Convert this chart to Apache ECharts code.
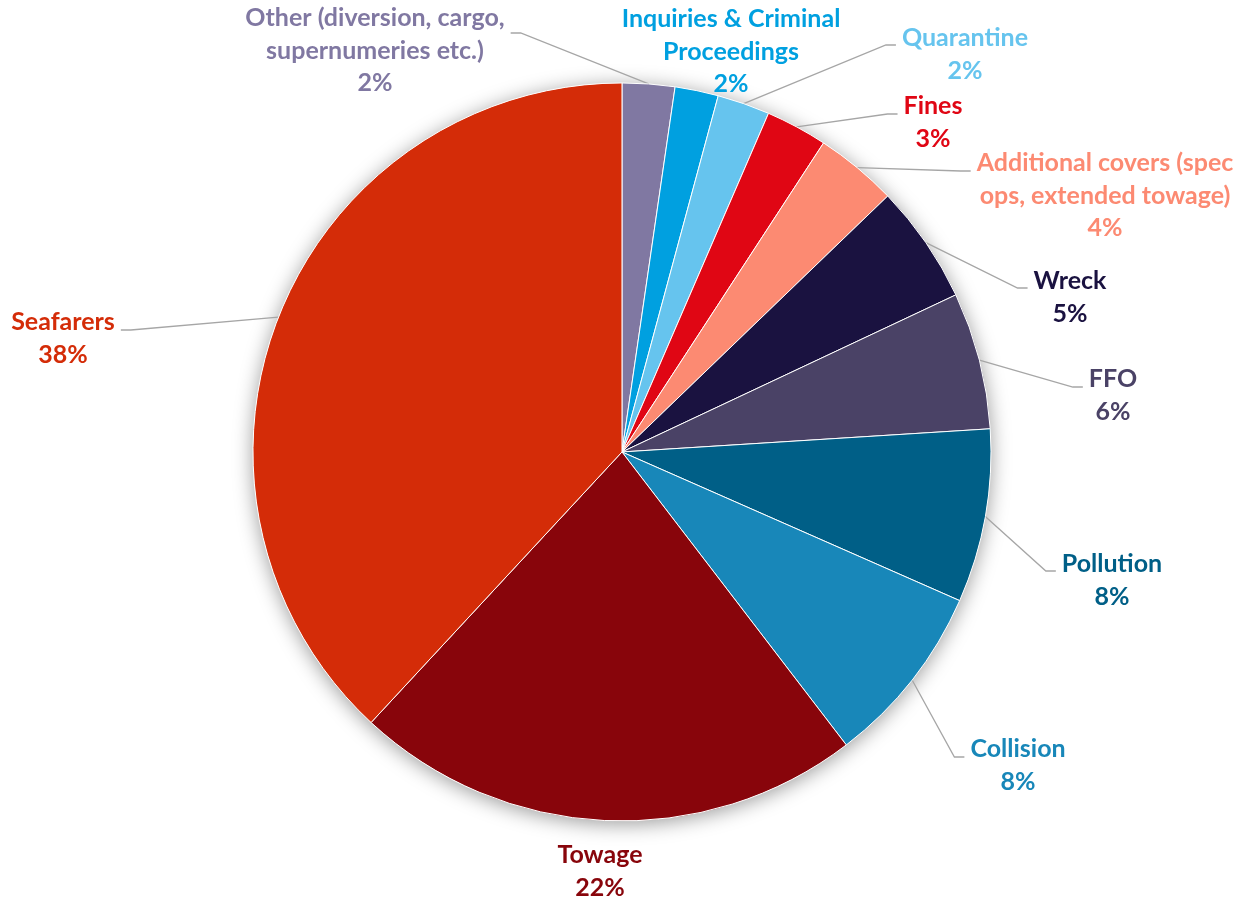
<!DOCTYPE html>
<html><head><meta charset="utf-8">
<script src="https://cdn.jsdelivr.net/npm/echarts@6/dist/echarts.min.js"></script>
<style>html,body{margin:0;padding:0;background:#fff}#c{width:1238px;height:898px}</style>
</head><body><div id="c"></div>
<script>
const categories = ['Other (diversion, cargo, supernumeries etc.)', 'Inquiries & Criminal Proceedings', 'Quarantine', 'Fines', 'Additional covers (spec ops, extended towage)', 'Wreck', 'FFO', 'Pollution', 'Collision', 'Towage', 'Seafarers'];
const values = [2.3, 1.9, 2.3, 2.7, 3.6, 5.2, 6.0, 7.6, 8.0, 22.3, 38.1];
const colors = ['#8078A2', '#00A0E0', '#66C4EE', '#E00614', '#FC8A72', '#1A1240', '#4A4266', '#005F87', '#1887B9', '#88050B', '#D42C08'];
const labelText = ['Other (diversion, cargo,\nsupernumeries etc.)', 'Inquiries & Criminal\nProceedings', 'Quarantine', 'Fines', 'Additional covers (spec\nops, extended towage)', 'Wreck', 'FFO', 'Pollution', 'Collision', 'Towage', 'Seafarers'];
// label anchor: centre x and centre y of first text line
const labelCenters = [[375, 18], [731, 19], [965, 38], [933, 106], [1105, 163], [1070, 281], [1113, 379], [1112, 564], [1018, 749], [600, 855], [63, 322]];
const lineSide = ['right', 'none', 'left', 'left', 'left', 'left', 'left', 'left', 'left', 'none', 'right'];
const lineDy = [15, 0, 7, 8, 8, 7, 8, 7, 8, 0, 8];

const LH = 32.5;
const total = values.reduce((a, b) => a + b, 0);

const data = categories.map((name, i) => ({
  name: name,
  value: values[i],
  itemStyle: { color: colors[i] },
  label: { color: colors[i] },
  labelLine: { show: lineSide[i] !== 'none' }
}));

const chart = echarts.init(document.getElementById('c'), null, { renderer: 'canvas' });
chart.setOption({
  animation: false,
  backgroundColor: '#ffffff',
  series: [
    {
      type: 'pie',
      silent: true,
      center: ['50.24%', '50.33%'],
      radius: 369,
      z: 1,
      label: { show: false },
      labelLine: { show: false },
      emphasis: { disabled: true },
      itemStyle: { color: '#ffffff', shadowBlur: 20, shadowColor: 'rgba(0,0,0,0.4)', shadowOffsetY: 3 },
      data: [{ value: total, name: 'shadow' }]
    },
    {
      type: 'pie',
      center: ['50.24%', '50.33%'],
      radius: 369,
      startAngle: 90,
      clockwise: true,
      z: 2,
      itemStyle: { borderColor: '#ffffff', borderWidth: 1 },
      label: {
        show: true,
        position: 'outside',
        overflow: 'none',
        fontFamily: 'Lato',
        fontWeight: 'bold',
        fontSize: 25,
        lineHeight: LH,
        formatter: function (p) {
          return labelText[p.dataIndex] + '\n' + Math.round(p.percent) + '%';
        }
      },
      labelLine: { show: true, length: 20, length2: 10, lineStyle: { color: '#A6A6A6', width: 1.3 } },
      labelLayout: function (p) {
        const i = p.dataIndex;
        const c = labelCenters[i];
        const res = { x: c[0], y: c[1] - LH / 2, align: 'center', verticalAlign: 'top' };
        if (lineSide[i] !== 'none' && p.labelLinePoints) {
          const w = p.labelRect.width;
          const ly = c[1] + lineDy[i];
          const ex = lineSide[i] === 'left' ? c[0] - w / 2 - 6 : c[0] + w / 2 + 6;
          const bx = lineSide[i] === 'left' ? ex - 10 : ex + 10;
          res.labelLinePoints = [p.labelLinePoints[0], [bx, ly], [ex, ly]];
        }
        return res;
      },
      emphasis: { disabled: true },
      data: data
    }
  ]
});
</script>
</body></html>
